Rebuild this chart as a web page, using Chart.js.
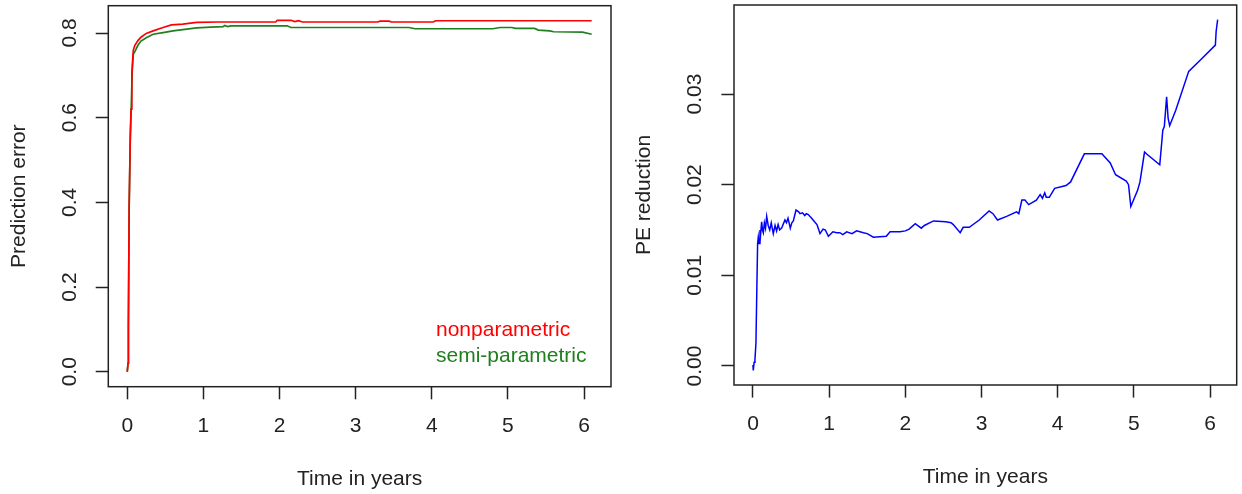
<!DOCTYPE html>
<html>
<head>
<meta charset="utf-8">
<script src="https://cdn.jsdelivr.net/npm/chart.js@4/dist/chart.umd.min.js"></script>
<style>
  html, body { margin: 0; padding: 0; background: #fff; }
  .panel { position: absolute; top: 0; width: 621px; height: 494px; }
  #leftPanel { left: 0; }
  #rightPanel { left: 621px; }
</style>
</head>
<body>
<div class="panel" id="leftPanel"><canvas id="peChart"></canvas></div>
<div class="panel" id="rightPanel"><canvas id="reductionChart"></canvas></div>
<script>
// tick values
var xTicks = [0, 1, 2, 3, 4, 5, 6];
var peTicks = [0, 0.2, 0.4, 0.6, 0.8];
var reductionTicks = [0, 0.01, 0.02, 0.03];

// left panel: prediction error curves
var nonparTimes = [0, 0.01, 0.015, 0.025, 0.04, 0.05, 0.06, 0.07, 0.08, 0.1, 0.14, 0.18, 0.25, 0.34, 0.47, 0.58, 0.73, 0.91, 1.2, 1.6, 1.95, 1.97, 2.15, 2.2, 2.25, 2.3, 3.29, 3.32, 3.44, 3.47, 4.02, 4.05, 5.0, 6.1];
var nonparametric = [0, 0.02, 0.11, 0.39, 0.56, 0.62, 0.7, 0.735, 0.76, 0.771, 0.782, 0.79, 0.799, 0.805, 0.813, 0.819, 0.821, 0.825, 0.826, 0.826, 0.826, 0.83, 0.83, 0.827, 0.829, 0.826, 0.826, 0.828, 0.828, 0.826, 0.826, 0.829, 0.829, 0.829];

var semiparTimes = [0, 0.01, 0.015, 0.025, 0.04, 0.05, 0.065, 0.08, 0.1, 0.14, 0.18, 0.25, 0.34, 0.47, 0.6, 0.73, 0.91, 1.1, 1.26, 1.28, 1.32, 1.36, 1.4, 2.1, 2.15, 3.7, 3.78, 4.8, 4.9, 5.05, 5.1, 5.35, 5.4, 5.55, 5.6, 5.98, 6.1];
var semiParametric = [0, 0.02, 0.11, 0.39, 0.55, 0.61, 0.71, 0.75, 0.756, 0.771, 0.781, 0.789, 0.797, 0.801, 0.805, 0.808, 0.812, 0.814, 0.815, 0.818, 0.815, 0.817, 0.817, 0.817, 0.813, 0.813, 0.81, 0.81, 0.813, 0.813, 0.811, 0.811, 0.807, 0.805, 0.803, 0.802, 0.797];

// right panel: PE reduction
var reductionTimes = [0, 0.004, 0.015, 0.026, 0.039, 0.048, 0.061, 0.07, 0.08, 0.092, 0.1, 0.114, 0.125, 0.136, 0.15, 0.165, 0.18, 0.2, 0.22, 0.24, 0.267, 0.29, 0.31, 0.33, 0.35, 0.376, 0.4, 0.42, 0.44, 0.46, 0.49, 0.51, 0.53, 0.565, 0.6, 0.617, 0.65, 0.68, 0.7, 0.726, 0.77, 0.8, 0.84, 0.86, 0.88, 0.92, 0.95, 0.99, 1.05, 1.1, 1.14, 1.18, 1.23, 1.3, 1.36, 1.45, 1.5, 1.58, 1.75, 1.8, 1.93, 2.0, 2.05, 2.13, 2.21, 2.25, 2.37, 2.53, 2.6, 2.63, 2.72, 2.76, 2.84, 2.97, 3.1, 3.15, 3.21, 3.33, 3.46, 3.49, 3.53, 3.57, 3.62, 3.72, 3.77, 3.8, 3.83, 3.85, 3.89, 3.96, 4.11, 4.17, 4.35, 4.58, 4.69, 4.76, 4.9, 4.93, 4.96, 5.05, 5.08, 5.14, 5.18, 5.34, 5.38, 5.4, 5.43, 5.45, 5.47, 5.55, 5.72, 5.89, 6.07, 6.08, 6.1];
var peReduction = [0.0001, -0.0005, 0.0004, 0.0007, 0.0025, 0.0071, 0.0135, 0.0142, 0.0135, 0.015, 0.0145, 0.0159, 0.015, 0.0147, 0.0158, 0.0152, 0.0165, 0.0155, 0.015, 0.0158, 0.0146, 0.0155, 0.0149, 0.0156, 0.015, 0.0152, 0.0157, 0.0161, 0.0158, 0.0163, 0.0152, 0.0158, 0.016, 0.0172, 0.017, 0.0168, 0.0169, 0.0166, 0.0168, 0.0167, 0.0163, 0.016, 0.0156, 0.0151, 0.0146, 0.0151, 0.015, 0.0143, 0.0148, 0.0147, 0.0147, 0.0145, 0.0148, 0.0146, 0.0149, 0.0147, 0.0146, 0.0142, 0.0143, 0.0148, 0.0148, 0.0149, 0.0151, 0.0157, 0.0152, 0.0155, 0.016, 0.0159, 0.0158, 0.0156, 0.0147, 0.0153, 0.0153, 0.0161, 0.0171, 0.0168, 0.0161, 0.0165, 0.017, 0.0168, 0.0183, 0.0183, 0.0178, 0.0183, 0.0189, 0.0185, 0.0191, 0.0186, 0.0186, 0.0196, 0.0199, 0.0203, 0.0234, 0.0234, 0.0224, 0.0211, 0.0204, 0.02, 0.0176, 0.0194, 0.0203, 0.0236, 0.0233, 0.0222, 0.026, 0.0264, 0.0297, 0.0273, 0.0265, 0.0282, 0.0325, 0.0339, 0.0354, 0.0369, 0.0382];

var FONT = { family: "'Liberation Sans', Arial, sans-serif", size: 21 };
var INK = '#222';

function toPoints(xs, ys) {
  return xs.map(function(x, i) { return { x: x, y: ys[i] }; });
}

// R-style box around the plot region
var boxPlugin = {
  id: 'box',
  afterDraw: function(chart) {
    var a = chart.chartArea, ctx = chart.ctx;
    ctx.save();
    ctx.strokeStyle = INK;
    ctx.lineWidth = 1.5;
    ctx.strokeRect(a.left, a.top, a.right - a.left, a.bottom - a.top);
    ctx.restore();
  }
};

// text-only legend, as in legend(bty = "n")
var textLegend = {
  id: 'textLegend',
  afterDraw: function(chart, args, opts) {
    if (!opts.show) return;
    var ctx = chart.ctx;
    ctx.save();
    ctx.font = FONT.size + 'px ' + FONT.family;
    ctx.textAlign = 'left';
    ctx.textBaseline = 'middle';
    chart.data.datasets.forEach(function(ds, i) {
      ctx.fillStyle = ds.borderColor;
      ctx.fillText(ds.label, opts.x, opts.y + i * opts.gap);
    });
    ctx.restore();
  }
};

function makeScales(cfg) {
  return {
    x: {
      type: 'linear',
      min: cfg.xMin, max: cfg.xMax,
      afterBuildTicks: function(s) { s.ticks = xTicks.map(function(v) { return { value: v }; }); },
      afterFit: function(s) { s.height = cfg.xHeight; s.paddingLeft = 0; s.paddingRight = 0; },
      border: { display: false },
      grid: { drawOnChartArea: false, drawTicks: true, tickLength: 12.6, tickColor: INK, tickWidth: 1.5 },
      ticks: { autoSkip: false, maxRotation: 0, color: INK, font: FONT, padding: cfg.xTickPad,
        callback: function(v) { return String(v); } },
      title: { display: true, text: 'Time in years', color: INK, font: FONT, padding: { top: 0, bottom: cfg.xTitlePad } }
    },
    y: {
      type: 'linear',
      min: cfg.yMin, max: cfg.yMax,
      afterBuildTicks: function(s) { s.ticks = cfg.yTicks.map(function(v) { return { value: v }; }); },
      afterFit: function(s) { s.width = cfg.yWidth; s.paddingTop = 0; s.paddingBottom = 0; },
      border: { display: false },
      grid: { drawOnChartArea: false, drawTicks: true, tickLength: 12.6, tickColor: INK, tickWidth: 1.5 },
      ticks: { autoSkip: false, minRotation: 90, maxRotation: 90, crossAlign: 'center', color: INK, font: FONT,
        padding: cfg.yTickPad, callback: function(v) { return v.toFixed(cfg.digits); } },
      title: { display: true, text: cfg.yTitle, color: INK, font: FONT, padding: { top: cfg.yTitlePad, bottom: 0 } }
    }
  };
}

new Chart(document.getElementById('peChart'), {
  type: 'line',
  data: {
    datasets: [
      { label: 'nonparametric', data: toPoints(nonparTimes, nonparametric), borderColor: '#ff0000', borderWidth: 1.7, pointRadius: 0, tension: 0 },
      { label: 'semi-parametric', data: toPoints(semiparTimes, semiParametric), borderColor: '#1f7f1f', borderWidth: 1.7, pointRadius: 0, tension: 0 }
    ]
  },
  options: {
    responsive: true, maintainAspectRatio: false, animation: false,
    layout: { padding: { top: 5.7, right: 10, left: 0, bottom: 0 } },
    plugins: { legend: { display: false }, tooltip: { enabled: false },
      textLegend: { show: true, x: 436, y: 330, gap: 26 } },
    scales: makeScales({ xMin: -0.249, xMax: 6.354, xHeight: 107.3, xTickPad: 14, xTitlePad: 2.4,
      yMin: -0.0354, yMax: 0.8645, yTicks: peTicks, digits: 1, yWidth: 108.3, yTickPad: 11, yTitle: 'Prediction error', yTitlePad: 6.4 })
  },
  plugins: [boxPlugin, textLegend]
});

new Chart(document.getElementById('reductionChart'), {
  type: 'line',
  data: {
    datasets: [
      { label: 'PE reduction', data: toPoints(reductionTimes, peReduction), borderColor: '#0000ff', borderWidth: 1.5, pointRadius: 0, tension: 0 }
    ]
  },
  options: {
    responsive: true, maintainAspectRatio: false, animation: false,
    layout: { padding: { top: 5, right: 5.3, left: 0, bottom: 0 } },
    plugins: { legend: { display: false }, tooltip: { enabled: false }, textLegend: { show: false } },
    scales: makeScales({ xMin: -0.249, xMax: 6.35, xHeight: 109, xTickPad: 13.8, xTitlePad: 4.4,
      yMin: -0.0021, yMax: 0.03982, yTicks: reductionTicks, digits: 2, yWidth: 113, yTickPad: 6, yTitle: 'PE reduction', yTitlePad: 10.9 })
  },
  plugins: [boxPlugin, textLegend]
});
</script>
</body>
</html>
